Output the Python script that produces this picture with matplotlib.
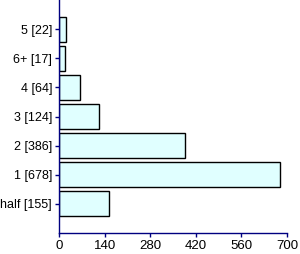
import matplotlib
matplotlib.use("Agg")
import matplotlib.pyplot as plt

# data, bottom to top as drawn
labels = ['half [155]', '1 [678]', '2 [386]', '3 [124]', '4 [64]', '6+ [17]', '5 [22]']
counts = [155, 678, 386, 124, 64, 17, 22]
xticks = [0, 140, 280, 420, 560, 700]

plt.rcParams['font.family'] = 'Liberation Sans'

axis_col = '#000080'

fig = plt.figure(figsize=(3.0, 2.54), dpi=100)
ax = fig.add_axes([59 / 300, 21 / 254, 228 / 300, 233 / 254])

pos = range(len(labels))
ax.barh(pos, counts, height=0.86, color='#E0FFFF', edgecolor='black', linewidth=1.0)

ax.set_xlim(0, 700)
ax.set_ylim(-1, len(labels))
ax.set_xticks(xticks)
ax.set_yticks(list(pos))
ax.set_yticklabels(labels)

for side in ['top', 'right']:
    ax.spines[side].set_visible(False)
for side in ['left', 'bottom']:
    ax.spines[side].set_color(axis_col)
    ax.spines[side].set_linewidth(1.0)
ax.tick_params(axis='both', color=axis_col, length=3, width=1.0, pad=2, labelcolor='black')
ax.tick_params(axis='y', labelsize=9)
ax.tick_params(axis='x', labelsize=9.5)

fig.savefig('out.png', dpi=100)
